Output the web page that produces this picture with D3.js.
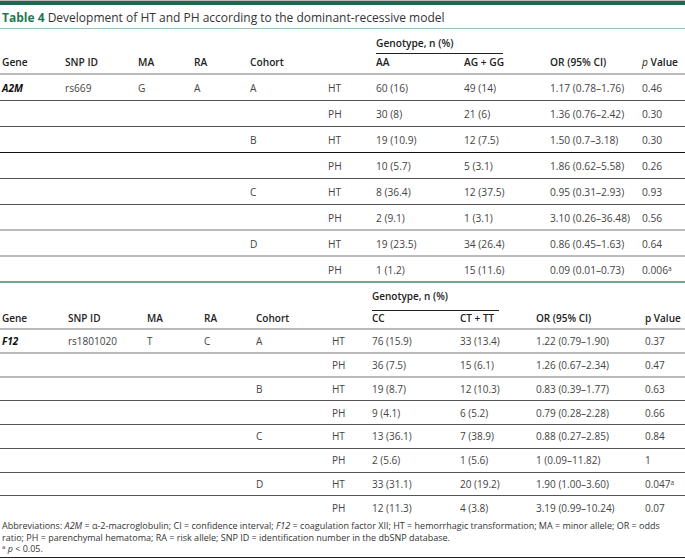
<!DOCTYPE html>
<html>
<head>
<meta charset="utf-8">
<script src="https://cdn.jsdelivr.net/npm/d3@7/dist/d3.min.js"></script>
<style>
  body { margin: 0; background: #fff; }
  svg { display: block; font-family: "Open Sans", sans-serif; }
</style>
</head>
<body>
<svg id="chart"></svg>
<script>
// table content
const tableNo = "Table 4"
const title = "Development of HT and PH according to the dominant-recessive model"
const headers = ["Gene", "SNP ID", "MA", "RA", "Cohort"]
const genes = ["A2M", "F12"]
const snpIds = ["rs669", "rs1801020"]
const minorAlleles = ["G", "T"]
const riskAlleles = ["A", "C"]
const genotypes = [["AA", "AG + GG"], ["CC", "CT + TT"]]
const cohorts = ["A", "B", "C", "D"]
const outcomes = ["HT", "PH"]

const a2mRef = ["60 (16)", "30 (8)", "19 (10.9)", "10 (5.7)", "8 (36.4)", "2 (9.1)", "19 (23.5)", "1 (1.2)"]
const a2mAlt = ["49 (14)", "21 (6)", "12 (7.5)", "5 (3.1)", "12 (37.5)", "1 (3.1)", "34 (26.4)", "15 (11.6)"]
const a2mOR = ["1.17 (0.78–1.76)", "1.36 (0.76–2.42)", "1.50 (0.7–3.18)", "1.86 (0.62–5.58)", "0.95 (0.31–2.93)", "3.10 (0.26–36.48)", "0.86 (0.45–1.63)", "0.09 (0.01–0.73)"]
const a2mP = ["0.46", "0.30", "0.30", "0.26", "0.93", "0.56", "0.64", "0.006"]
const a2mNote = ["", "", "", "", "", "", "", "a"]

const f12Ref = ["76 (15.9)", "36 (7.5)", "19 (8.7)", "9 (4.1)", "13 (36.1)", "2 (5.6)", "33 (31.1)", "12 (11.3)"]
const f12Alt = ["33 (13.4)", "15 (6.1)", "12 (10.3)", "6 (5.2)", "7 (38.9)", "1 (5.6)", "20 (19.2)", "4 (3.8)"]
const f12OR = ["1.22 (0.79–1.90)", "1.26 (0.67–2.34)", "0.83 (0.39–1.77)", "0.79 (0.28–2.28)", "0.88 (0.27–2.85)", "1 (0.09–11.82)", "1.90 (1.00–3.60)", "3.19 (0.99–10.24)"]
const f12P = ["0.37", "0.47", "0.63", "0.66", "0.84", "1", "0.047", "0.07"]
const f12Note = ["", "", "", "", "", "", "a", ""]

const width = 685, height = 559
const green = "#1d6b4f"

const svg = d3.select("#chart").attr("width", width).attr("height", height)

// heading
svg.append("rect").attr("x", 0).attr("y", 0).attr("width", width).attr("height", 5).attr("fill", green)
const head = svg.append("text").attr("x", 2).attr("y", 21.5).attr("font-size", 12)
head.append("tspan").attr("fill", "#1f7a55").attr("font-weight", 700).text(tableNo)
head.append("tspan").attr("fill", "#333").text(" " + title)
svg.append("line").attr("x1", 0).attr("x2", width).attr("y1", 28.5).attr("y2", 28.5)
    .attr("stroke", "#9cc3b0").attr("stroke-width", 1)

const colKeys = ["gene", "snp", "ma", "ra", "cohort", "outcome", "ref", "alt", "or", "p"]

const rowsFor = (ref, alt, or, p, note, gi) => d3.range(8).map(i => ({
    gene: i === 0 ? genes[gi] : "",
    snp: i === 0 ? snpIds[gi] : "",
    ma: i === 0 ? minorAlleles[gi] : "",
    ra: i === 0 ? riskAlleles[gi] : "",
    cohort: i % 2 === 0 ? cohorts[i / 2] : "",
    outcome: outcomes[i % 2],
    ref: ref[i], alt: alt[i], or: or[i], p: p[i], note: note[i]
}))

const ruleColor = { dark: "#555", black: "#111", light: "#bbb" }

function drawTable(opts) {
    const g = svg.append("g")
    const fs = opts.fontSize
    const x = d3.scaleOrdinal().domain(colKeys).range(opts.xs)
    const y = d3.scaleBand().domain(d3.range(opts.rows.length))
        .range([opts.top, opts.top + opts.pitch * opts.rows.length])

    // column group header
    g.append("text").attr("x", x("ref")).attr("y", opts.top - opts.genoOffset).attr("dy", "0.35em")
        .attr("font-size", fs).attr("font-weight", 600).attr("fill", "#222").text("Genotype, n (%)")
    const ul = Math.round(opts.top - opts.pitch * 0.8) + 0.5
    g.append("line").attr("x1", x("ref")).attr("x2", x("alt") + 39)
        .attr("y1", ul).attr("y2", ul).attr("stroke", "#222")

    const hdr = headers.map((h, i) => ({ key: colKeys[i], label: h }))
        .concat([{ key: "ref", label: opts.geno[0] }, { key: "alt", label: opts.geno[1] }, { key: "or", label: "OR (95% CI)" }])
    const hy = opts.top - opts.pitch * 0.43
    g.selectAll(".hdr").data(hdr).join("text")
        .attr("class", "hdr")
        .attr("x", d => x(d.key)).attr("y", hy).attr("dy", "0.35em")
        .attr("font-size", fs).attr("font-weight", 600).attr("fill", "#222")
        .text(d => d.label)
    const ph = g.append("text").attr("x", x("p")).attr("y", hy).attr("dy", "0.35em")
        .attr("font-size", fs).attr("font-weight", 600).attr("fill", "#222")
    ph.append("tspan").attr("font-style", opts.italicP ? "italic" : "normal")
        .attr("font-weight", opts.italicP ? 400 : 600).text("p")
    ph.append("tspan").text(" Value")

    // header rule
    g.append("line").attr("x1", 0).attr("x2", width).attr("y1", opts.top).attr("y2", opts.top)
        .attr("stroke", ruleColor.light).attr("stroke-width", 2)

    // row rules
    opts.rules.forEach((kind, i) => {
        const yy = Math.round(y(i + 1)) + (kind === "light" ? 0 : 0.5)
        g.append("line").attr("x1", 0).attr("x2", width).attr("y1", yy).attr("y2", yy)
            .attr("stroke", ruleColor[kind]).attr("stroke-width", kind === "light" ? 2 : 1)
    })

    // cells
    const rows = g.selectAll(".row").data(opts.rows).join("g").attr("class", "row")
        .attr("transform", (d, i) => `translate(0,${y(i) + y.bandwidth() / 2 + 1})`)
    colKeys.forEach(k => {
        const t = rows.append("text")
            .attr("x", x(k)).attr("dy", "0.35em").attr("font-size", fs)
            .attr("fill", k === "gene" ? "#111" : "#444")
            .attr("font-weight", k === "gene" ? 700 : 400)
            .attr("font-style", k === "gene" ? "italic" : "normal")
            .text(d => d[k])
        if (k === "p") {
            t.append("tspan").attr("dy", "-0.45em").attr("font-size", 6.5).text(d => d.note)
        }
    })
}

drawTable({
    top: 74,
    pitch: 26,
    genoOffset: 31,
    fontSize: 10.2,
    xs: [2, 65, 138, 194, 250, 328, 376, 464, 550, 642],
    geno: genotypes[0],
    italicP: true,
    rows: rowsFor(a2mRef, a2mAlt, a2mOR, a2mP, a2mNote, 0),
    rules: ["dark", "dark", "black", "dark", "dark", "light", "light"]
})

// table separator
svg.append("line").attr("x1", 0).attr("x2", width).attr("y1", 282).attr("y2", 282)
    .attr("stroke", "#6fa68c").attr("stroke-width", 2)

drawTable({
    top: 329,
    pitch: 23.75,
    genoOffset: 32.5,
    fontSize: 10,
    xs: [2, 68, 147, 204, 256, 332, 372, 460, 536, 645],
    geno: genotypes[1],
    italicP: false,
    rows: rowsFor(f12Ref, f12Alt, f12OR, f12P, f12Note, 1),
    rules: ["light", "light", "dark", "dark", "dark", "dark", "dark", "light"]
})

// footnote
const foot = svg.append("g").attr("font-size", 9).attr("fill", "#333")
const f1 = foot.append("text").attr("x", 2).attr("y", 529)
f1.append("tspan").text("Abbreviations: ")
f1.append("tspan").attr("font-style", "italic").text("A2M")
f1.append("tspan").text(" = α-2-macroglobulin; CI = confidence interval; ")
f1.append("tspan").attr("font-style", "italic").text("F12")
f1.append("tspan").text(" = coagulation factor XII; HT = hemorrhagic transformation; MA = minor allele; OR = odds")
foot.append("text").attr("x", 2).attr("y", 540.5)
    .text("ratio; PH = parenchymal hematoma; RA = risk allele; SNP ID = identification number in the dbSNP database.")
const f3 = foot.append("text").attr("x", 2).attr("y", 552)
f3.append("tspan").attr("font-size", 6).attr("dy", "-3").text("a")
f3.append("tspan").attr("dy", "3").attr("font-style", "italic").text(" p")
f3.append("tspan").text(" < 0.05.")
svg.append("line").attr("x1", 0).attr("x2", width).attr("y1", 557.5).attr("y2", 557.5)
    .attr("stroke", "#222").attr("stroke-width", 1)
</script>
</body>
</html>
